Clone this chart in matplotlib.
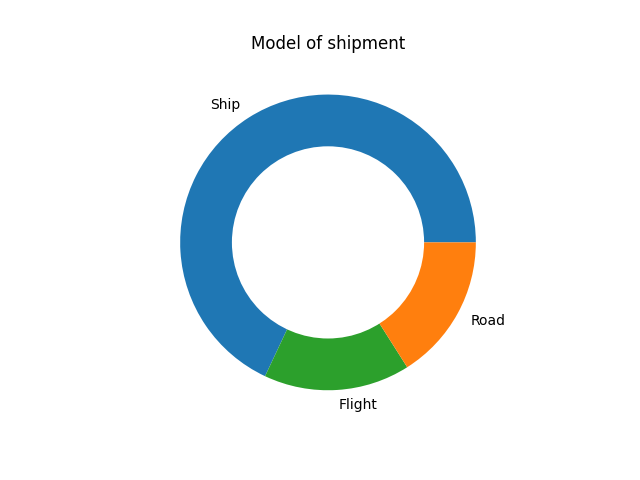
import matplotlib
matplotlib.use('Agg')
import matplotlib.pyplot as plt

# shipment modes and their counts
modes = ['Ship', 'Flight', 'Road']
counts = [17, 4, 4]
mode_colors = ['#1f77b4', '#2ca02c', '#ff7f0e']

fig, ax = plt.subplots(figsize=(6.4, 4.8), dpi=100)
ax.pie(counts, labels=modes, colors=mode_colors)

# white circle in the middle to make the donut
centre_circle = plt.Circle((0, 0), 0.65, fc='white')
ax.add_artist(centre_circle)

ax.set_title('Model of shipment')
plt.savefig('out.png')
